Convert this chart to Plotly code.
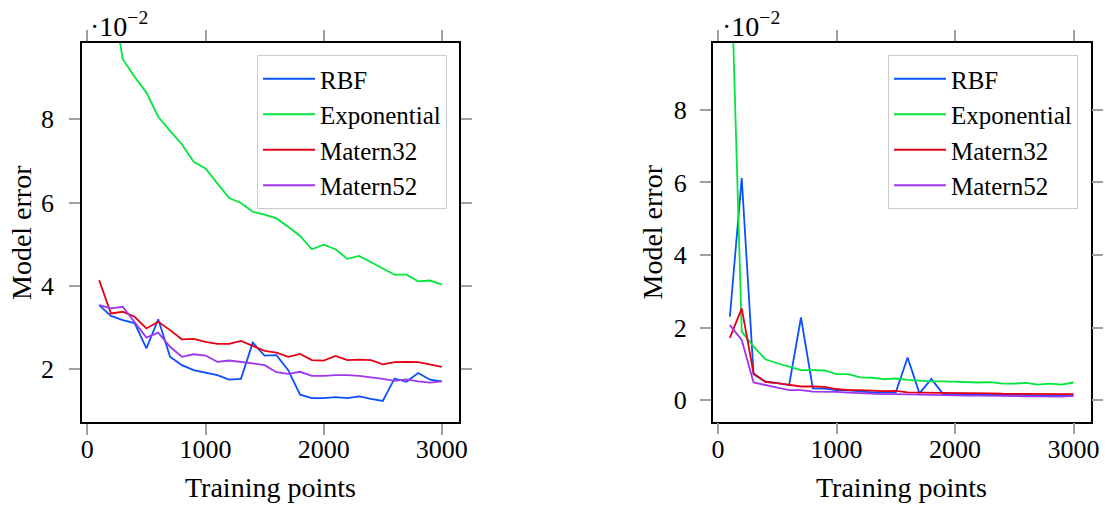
import plotly.graph_objects as go

# Training points
x_points = [100, 200, 300, 400, 500, 600, 700, 800, 900, 1000,
            1100, 1200, 1300, 1400, 1500, 1600, 1700, 1800, 1900, 2000,
            2100, 2200, 2300, 2400, 2500, 2600, 2700, 2800, 2900, 3000]

# Left panel (values in units of 1e-2)
left_rbf = [3.54, 3.28, 3.18, 3.11, 2.50, 3.20, 2.30, 2.10, 1.98, 1.92,
            1.86, 1.75, 1.77, 2.64, 2.33, 2.34, 1.98, 1.39, 1.31, 1.31,
            1.33, 1.31, 1.35, 1.29, 1.24, 1.78, 1.70, 1.91, 1.75, 1.71]
left_exp = [12.5, 11.16, 9.44, 9.02, 8.64, 8.06, 7.72, 7.40, 6.98, 6.82,
            6.46, 6.11, 5.99, 5.78, 5.71, 5.62, 5.42, 5.20, 4.88, 4.99,
            4.88, 4.65, 4.72, 4.57, 4.41, 4.27, 4.27, 4.11, 4.13, 4.03]
left_m32 = [4.14, 3.34, 3.38, 3.26, 2.98, 3.14, 2.94, 2.72, 2.73, 2.66,
            2.61, 2.61, 2.68, 2.56, 2.44, 2.40, 2.30, 2.37, 2.22, 2.21,
            2.32, 2.22, 2.23, 2.22, 2.12, 2.17, 2.18, 2.17, 2.12, 2.06]
left_m52 = [3.54, 3.46, 3.50, 3.14, 2.76, 2.88, 2.54, 2.30, 2.36, 2.33,
            2.18, 2.21, 2.18, 2.14, 2.10, 1.93, 1.89, 1.94, 1.84, 1.84,
            1.86, 1.86, 1.84, 1.81, 1.77, 1.72, 1.76, 1.71, 1.68, 1.71]

# Right panel (values in units of 1e-2)
right_rbf = [2.30, 6.12, 0.72, 0.51, 0.47, 0.42, 2.28, 0.33, 0.32, 0.28,
             0.27, 0.24, 0.22, 0.22, 0.22, 1.18, 0.19, 0.59, 0.17, 0.17,
             0.16, 0.16, 0.15, 0.15, 0.15, 0.14, 0.14, 0.13, 0.13, 0.13]
right_exp = [13.1, 1.89, 1.48, 1.13, 1.02, 0.93, 0.83, 0.83, 0.82, 0.72,
             0.72, 0.63, 0.62, 0.58, 0.60, 0.56, 0.53, 0.52, 0.52, 0.51,
             0.49, 0.49, 0.50, 0.46, 0.46, 0.48, 0.43, 0.46, 0.43, 0.49]
right_m32 = [1.72, 2.53, 0.74, 0.51, 0.47, 0.42, 0.38, 0.38, 0.37, 0.31,
             0.28, 0.28, 0.26, 0.25, 0.26, 0.22, 0.21, 0.21, 0.21, 0.20,
             0.19, 0.19, 0.19, 0.18, 0.18, 0.18, 0.18, 0.17, 0.17, 0.17]
right_m52 = [2.07, 1.66, 0.49, 0.41, 0.35, 0.28, 0.28, 0.24, 0.24, 0.23,
             0.21, 0.19, 0.18, 0.17, 0.17, 0.16, 0.16, 0.15, 0.14, 0.14,
             0.13, 0.13, 0.12, 0.12, 0.12, 0.11, 0.11, 0.10, 0.10, 0.12]

series_names = ["RBF", "Exponential", "Matern32", "Matern52"]
colors = ["#0a50ff", "#00e63c", "#e60014", "#a035f0"]

x_ticks = [0, 1000, 2000, 3000]
left_y_ticks = [2, 4, 6, 8]
right_y_ticks = [0, 2, 4, 6, 8]

FONT = "Liberation Serif"
W, H = 1105, 505

fig = go.Figure()

left_data = [left_rbf, left_exp, left_m32, left_m52]
right_data = [right_rbf, right_exp, right_m32, right_m52]

for name, col, ys in zip(series_names, colors, left_data):
    fig.add_trace(go.Scatter(x=x_points, y=ys, mode="lines", name=name,
                             line=dict(color=col, width=1.8),
                             xaxis="x", yaxis="y", legend="legend"))
for name, col, ys in zip(series_names, colors, right_data):
    fig.add_trace(go.Scatter(x=x_points, y=ys, mode="lines", name=name,
                             line=dict(color=col, width=1.8),
                             xaxis="x2", yaxis="y2", legend="legend2"))

def px_x(p):
    return p / W

def px_y(p):
    return 1 - p / H

axis_common = dict(
    showline=True, linecolor="black", linewidth=1.5, mirror="ticks",
    ticks="outside", ticklen=11, tickwidth=1.5, tickcolor="#a0a0a0",
    showgrid=False, zeroline=False, automargin=False,
    tickfont=dict(family=FONT, size=26, color="black"),
)

legend_common = dict(
    xanchor="right", yanchor="top",
    bgcolor="white", bordercolor="#cccccc", borderwidth=1,
    font=dict(family=FONT, size=25), tracegroupgap=0, itemwidth=52,
)

fig.update_layout(
    width=W, height=H,
    margin=dict(l=0, r=0, t=0, b=0),
    paper_bgcolor="white", plot_bgcolor="white",
    font=dict(family=FONT, color="black"),
    xaxis=dict(domain=[px_x(82), px_x(459)], range=[-45, 3145],
               tickvals=x_ticks, anchor="y", ticklabelstandoff=-8, **axis_common),
    yaxis=dict(domain=[px_y(422), px_y(43)], range=[0.735, 9.83],
               tickvals=left_y_ticks, anchor="x", ticklabelstandoff=10, **axis_common),
    xaxis2=dict(domain=[px_x(712.7), px_x(1090.7)], range=[-45, 3145],
                tickvals=x_ticks, anchor="y2", ticklabelstandoff=-8, **axis_common),
    yaxis2=dict(domain=[px_y(421.7), px_y(43)], range=[-0.59, 9.84],
                tickvals=right_y_ticks, anchor="x2", ticklabelstandoff=8, **axis_common),
    legend=dict(x=px_x(447), y=px_y(55), **legend_common),
    legend2=dict(x=px_x(1078), y=px_y(55), **legend_common),
    showlegend=True,
)

ann_font = dict(family=FONT, size=28, color="black")
annotations = [
    dict(text="Training points", x=px_x(270.5), y=px_y(487), xref="paper", yref="paper",
         xanchor="center", yanchor="middle", showarrow=False, font=ann_font),
    dict(text="Training points", x=px_x(901.7), y=px_y(487), xref="paper", yref="paper",
         xanchor="center", yanchor="middle", showarrow=False, font=ann_font),
    dict(text="Model error", x=px_x(21.5), y=px_y(232.5), xref="paper", yref="paper",
         xanchor="center", yanchor="middle", showarrow=False, textangle=-90, font=ann_font),
    dict(text="Model error", x=px_x(652), y=px_y(232.5), xref="paper", yref="paper",
         xanchor="center", yanchor="middle", showarrow=False, textangle=-90, font=ann_font),
    dict(text="·10<sup>−2</sup>", x=px_x(88), y=px_y(24), xref="paper", yref="paper",
         xanchor="left", yanchor="middle", showarrow=False, font=ann_font),
    dict(text="·10<sup>−2</sup>", x=px_x(720), y=px_y(24), xref="paper", yref="paper",
         xanchor="left", yanchor="middle", showarrow=False, font=ann_font),
]
fig.update_layout(annotations=annotations)

fig.write_html("out.html")
